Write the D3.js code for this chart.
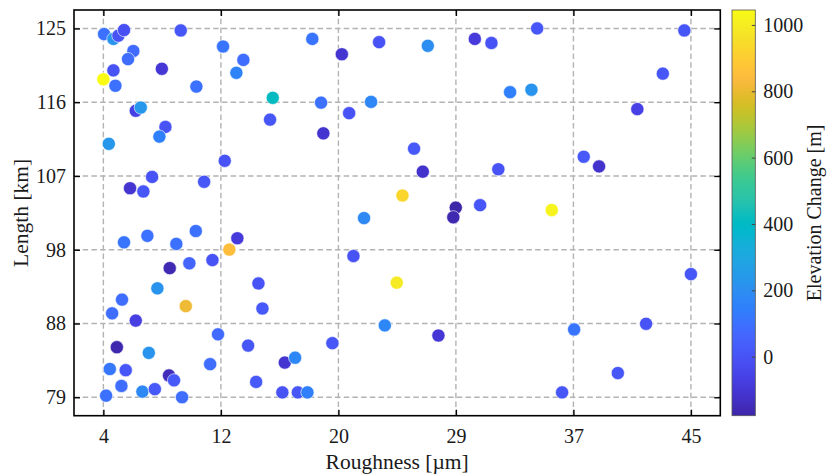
<!DOCTYPE html>
<html><head><meta charset="utf-8">
<script src="https://cdn.jsdelivr.net/npm/d3@7"></script>
<style>
body{margin:0;background:#fff}
svg{display:block}
text{font-family:"Liberation Serif","Times New Roman",serif;fill:#1a1a1a}
</style>
</head><body><svg id="chart" width="828" height="475"></svg>
<script>
// ---------- data ----------
const roughness = [4.05,4.70,5.05,5.44,9.40,12.35,13.77,13.28,6.09,5.72,
  4.70,4.00,8.08,4.84,10.49,15.82,6.26,6.61,15.63,8.33,
  7.91,4.38,12.47,7.40,11.03,5.86,6.79,5.44,7.07,9.09,
  10.45,13.35,12.79,8.63,10.00,11.61,14.82,15.10,7.77,5.30,
  4.61,6.26,9.75,12.00,14.10,4.94,7.17,4.45,5.56,11.45,
  8.58,8.93,5.26,4.19,6.72,7.59,9.49,14.66,16.49,17.57,
  18.24,16.66,17.38,19.98,21.45,24.47,23.64,27.38,18.58,20.64,
  23.24,26.64,19.19,21.15,22.68,19.35,25.68,26.29,24.87,28.59,
  28.42,30.29,22.19,29.92,31.08,34.27,44.54,43.04,32.38,33.87,
  41.26,37.52,38.59,31.56,35.29,45.00,36.85,41.87,39.90,36.01];
const lengthKm = [124.3,123.7,124.1,124.8,124.75,122.76,121.1,119.5,122.2,121.2,
  119.8,118.7,120.0,117.9,117.8,116.4,114.8,115.2,113.7,112.8,
  111.6,110.7,108.6,106.6,106.0,105.2,104.8,98.5,99.3,98.3,
  99.9,99.0,97.6,95.3,95.9,96.3,93.4,90.3,92.8,91.4,
  89.7,88.8,90.6,87.1,85.7,85.5,84.8,82.8,82.65,83.4,
  82.0,81.4,80.7,79.5,80.0,80.3,79.3,81.2,79.9,79.9,
  79.9,83.6,84.2,86.0,96.8,93.5,88.2,86.95,123.7,121.8,
  123.3,122.85,115.8,114.5,115.9,112.0,110.1,107.25,104.3,102.8,
  101.6,103.1,101.5,123.7,123.2,125.0,124.75,119.4,117.1,117.4,
  115.0,109.1,107.9,107.55,102.5,94.56,87.7,88.4,82.3,79.9];
const elevationChange = [100,220,0,-10,10,110,90,160,80,90,
  0,1045,-100,100,100,410,-60,230,10,0,
  150,230,0,0,10,-110,10,110,100,100,
  100,-90,850,-160,60,0,0,20,220,90,
  90,-70,810,80,10,-170,220,120,10,90,
  -150,20,90,100,180,20,90,20,0,10,
  150,-110,170,10,0,990,170,-100,110,-110,
  0,200,100,0,170,-110,20,-120,930,-178,
  -165,10,180,-90,0,10,10,10,150,220,
  -60,20,-120,0,1020,10,110,0,10,10];

const xTickValues = [4, 12.2, 20.4, 28.6, 36.8, 45];
const xTickLabels = ["4","12","20","29","37","45"];
const yTickValues = [79.3, 88.44, 97.58, 106.72, 115.86, 125];
const yTickLabels = ["79","88","98","107","116","125"];
const cTickValues = [0, 200, 400, 600, 800, 1000];
const xDomain = [1.95, 47.05];
const yDomain = [77.015, 127.285];
const cDomain = [-178, 1045];

// parula colormap (64 entries)
const parula = [
[0.2422,0.1504,0.6603],[0.2504,0.1650,0.7076],[0.2578,0.1818,0.7511],[0.2647,0.1978,0.7952],
[0.2706,0.2147,0.8364],[0.2751,0.2342,0.8710],[0.2783,0.2559,0.8991],[0.2803,0.2782,0.9221],
[0.2813,0.3006,0.9414],[0.2810,0.3228,0.9579],[0.2795,0.3447,0.9717],[0.2760,0.3667,0.9829],
[0.2699,0.3892,0.9906],[0.2602,0.4123,0.9952],[0.2440,0.4358,0.9988],[0.2206,0.4603,0.9973],
[0.1963,0.4847,0.9892],[0.1834,0.5074,0.9798],[0.1786,0.5289,0.9682],[0.1764,0.5499,0.9520],
[0.1687,0.5703,0.9359],[0.1540,0.5902,0.9218],[0.1460,0.6091,0.9079],[0.1380,0.6276,0.8973],
[0.1248,0.6459,0.8883],[0.1113,0.6635,0.8763],[0.0952,0.6798,0.8598],[0.0689,0.6948,0.8394],
[0.0297,0.7082,0.8163],[0.0036,0.7203,0.7917],[0.0067,0.7312,0.7660],[0.0433,0.7411,0.7394],
[0.0964,0.7500,0.7120],[0.1408,0.7584,0.6842],[0.1717,0.7670,0.6554],[0.1938,0.7758,0.6251],
[0.2161,0.7843,0.5923],[0.2470,0.7918,0.5567],[0.2906,0.7973,0.5188],[0.3406,0.8008,0.4789],
[0.3909,0.8029,0.4354],[0.4456,0.8024,0.3909],[0.5044,0.7993,0.3480],[0.5616,0.7942,0.3045],
[0.6174,0.7876,0.2612],[0.6720,0.7793,0.2227],[0.7242,0.7698,0.1910],[0.7738,0.7598,0.1646],
[0.8203,0.7498,0.1535],[0.8634,0.7406,0.1596],[0.9035,0.7330,0.1774],[0.9393,0.7288,0.2100],
[0.9728,0.7298,0.2394],[0.9956,0.7434,0.2371],[0.9970,0.7659,0.2199],[0.9952,0.7893,0.2028],
[0.9892,0.8136,0.1885],[0.9786,0.8386,0.1766],[0.9676,0.8639,0.1643],[0.9610,0.8890,0.1537],
[0.9597,0.9135,0.1423],[0.9628,0.9373,0.1265],[0.9691,0.9606,0.1064],[0.9769,0.9839,0.0805]];

// ---------- layout ----------
const P = {left:74, right:720.3, top:10, bottom:415.7};
const CB = {left:732, right:755.3};
const FONT = '"Liberation Serif","Times New Roman",serif';

const svg = d3.select("#chart");
const x = d3.scaleLinear().domain(xDomain).range([P.left, P.right]);
const y = d3.scaleLinear().domain(yDomain).range([P.bottom, P.top]);
const parulaColors = parula.map(c => d3.rgb(c[0]*255, c[1]*255, c[2]*255).formatHex());
const tScale = d3.scaleLinear().domain(cDomain).range([0, 1]).clamp(true);
const cmap = d3.scaleLinear()
  .domain(parulaColors.map((_, i) => i / (parulaColors.length - 1)))
  .range(parulaColors).interpolate(d3.interpolateRgb);
const color = v => cmap(tScale(v));

// grid
const grid = svg.append("g");
grid.selectAll(".gx").data(xTickValues).join("line")
  .attr("x1", d => x(d)).attr("x2", d => x(d))
  .attr("y1", P.top).attr("y2", P.bottom)
  .attr("stroke", "#b3b3b3").attr("stroke-width", 1.4).attr("stroke-dasharray", "5.5,3.2");
grid.selectAll(".gy").data(yTickValues).join("line")
  .attr("y1", d => y(d)).attr("y2", d => y(d))
  .attr("x1", P.left).attr("x2", P.right)
  .attr("stroke", "#b3b3b3").attr("stroke-width", 1.4).attr("stroke-dasharray", "5.5,3.2");

// points
const pts = roughness.map((r, i) => ({r, l: lengthKm[i], e: elevationChange[i]}));
svg.append("g").selectAll("circle").data(pts).join("circle")
  .attr("cx", d => x(d.r)).attr("cy", d => y(d.l)).attr("r", 6.6)
  .attr("fill", d => color(d.e)).attr("stroke", "#ffffff").attr("stroke-width", 0.6);

// axes
function styleAxis(g){
  g.select(".domain").remove();
  g.selectAll(".tick line").attr("stroke", "#000").attr("stroke-width", 1.4);
  g.selectAll("text").attr("font-family", FONT).attr("font-size", 20).attr("fill", "#1a1a1a");
  g.attr("font-family", null).attr("font-size", null);
}
svg.append("g").attr("transform", `translate(0,${P.bottom})`)
  .call(d3.axisBottom(x).tickValues(xTickValues).tickFormat((d, i) => xTickLabels[i]).tickSize(-6).tickPadding(13.6))
  .call(styleAxis);
svg.append("g").attr("transform", `translate(0,${P.top})`)
  .call(d3.axisTop(x).tickValues(xTickValues).tickFormat("").tickSize(-6))
  .call(styleAxis);
svg.append("g").attr("transform", `translate(${P.left},0)`)
  .call(d3.axisLeft(y).tickValues(yTickValues).tickFormat((d, i) => yTickLabels[i]).tickSize(-6).tickPadding(8))
  .call(styleAxis);
svg.append("g").attr("transform", `translate(${P.right},0)`)
  .call(d3.axisRight(y).tickValues(yTickValues).tickFormat("").tickSize(-6))
  .call(styleAxis);

// frame
svg.append("rect").attr("x", P.left).attr("y", P.top)
  .attr("width", P.right - P.left).attr("height", P.bottom - P.top)
  .attr("fill", "none").attr("stroke", "#000").attr("stroke-width", 1.6);

// axis titles
svg.append("text").attr("x", (P.left + P.right) / 2).attr("y", 469)
  .attr("text-anchor", "middle").attr("font-size", 21.5).text("Roughness [µm]");
svg.append("text").attr("transform", `translate(28,${(P.top + P.bottom) / 2}) rotate(-90)`)
  .attr("text-anchor", "middle").attr("font-size", 21.5).text("Length [km]");

// colorbar
const cy = d3.scaleLinear().domain(cDomain).range([P.bottom, P.top]);
const defs = svg.append("defs");
const grad = defs.append("linearGradient").attr("id", "cbgrad")
  .attr("x1", 0).attr("y1", 1).attr("x2", 0).attr("y2", 0);
grad.selectAll("stop").data(parulaColors).join("stop")
  .attr("offset", (d, i) => i / (parulaColors.length - 1)).attr("stop-color", d => d);
svg.append("rect").attr("x", CB.left).attr("y", P.top)
  .attr("width", CB.right - CB.left).attr("height", P.bottom - P.top)
  .attr("fill", "url(#cbgrad)").attr("stroke", "#555").attr("stroke-width", 0.8);
const cAxis = svg.append("g").attr("transform", `translate(${CB.right},0)`)
  .call(d3.axisRight(cy).tickValues(cTickValues).tickFormat(d3.format("d")).tickSize(-3.5).tickPadding(8))
  .call(styleAxis);
cAxis.selectAll(".tick line").attr("stroke", "#444").attr("stroke-width", 1);
svg.append("text").attr("transform", `translate(821,${(P.top + P.bottom) / 2}) rotate(-90)`)
  .attr("text-anchor", "middle").attr("font-size", 20).text("Elevation Change [m]");
</script>
</body></html>
